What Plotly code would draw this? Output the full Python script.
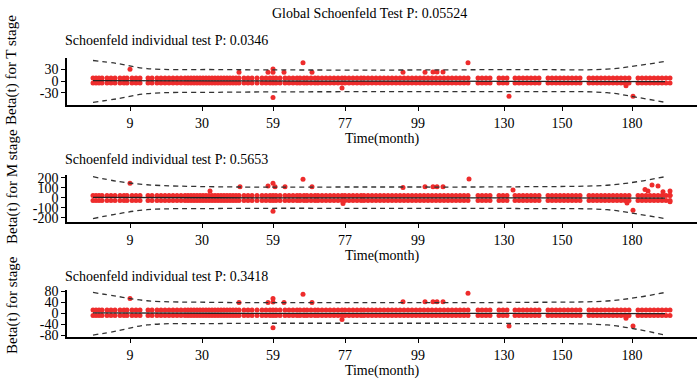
import plotly.graph_objects as go

# ---------------- data ----------------
# transformed (KM-scale) event times of the residual columns
event_t = [26, 29, 32, 35, 40, 44, 48, 53, 57, 60, 65, 69, 73,
           81, 85, 90, 94, 98, 102, 106, 110, 114, 118, 121, 124, 127, 130, 133, 136, 139, 142,
           145, 148, 151, 154, 157, 160, 163, 166, 169, 172,
           177, 181, 185, 190, 195, 199, 203, 206, 209, 213, 218, 222,
           226, 230, 233, 237, 240, 244, 248, 251, 255, 259, 263, 267, 271, 275, 278, 282, 286,
           290, 294, 297, 301, 305, 309, 313, 317, 321, 325, 329, 333,
           337, 341, 345, 349, 353, 357, 361, 365, 369, 373, 377, 381, 385, 389, 393, 397, 401,
           411, 415, 419, 423, 432, 436, 440, 448, 452, 456, 460, 464, 468, 472,
           481, 485, 489, 493, 497, 501, 505, 509, 513, 522, 526, 530, 534, 538, 542, 546, 550,
           554, 558, 562, 571, 575, 579, 583, 587, 591, 595, 599, 603]

tick_pos = [63, 135, 206, 278, 351, 437, 495, 565]
tick_text = ["9", "30", "59", "77", "99", "130", "150", "180"]

band_t = [26, 50, 80, 150, 300, 450, 540, 570, 598]
fit_t = [26, 150, 300, 450, 598]

# panel 1: T stage
t_rows = [8, -5]
t_out_x = [63, 172, 201, 206, 206, 217, 236, 245, 206, 275, 336, 358, 366, 370, 376, 401, 442, 559, 566]
t_out_y = [30.5, 22.7, 22.7, 31.5, 22.7, 22.7, 47.8, 22.7, -42.5, -18, 22.7, 22.7, 23.5, 23.5, 23.5, 47.8, -39, -12, -39]
t_upper = [53.5, 45.7, 32.6, 30, 28.7, 30, 31, 40, 51]
t_lower = [-55, -46, -32.6, -29, -27.4, -27.4, -30, -42, -55]
t_fit = [1.5, 0.5, 0, -0.5, -1.5]

# panel 2: M stage
m_rows = [23, -27]
m_out_x = [63, 143, 173, 201, 206, 208, 218, 236, 245, 206, 276, 336, 358, 366, 370, 376, 402, 446,
           585, 591, 578, 566, 560, 596, 603, 603, 603, 581]
m_out_y = [144, 67, 110, 117, 144, 110, 110, 184, 110, -133, -56, 104, 110, 110, 110, 110, 187, 77,
           127, 117, 84, -123, -50, 60, 67, 27, -40, 67]
m_upper = [210, 165, 130, 110, 108, 110, 125, 160, 210]
m_lower = [-206, -160, -118, -106, -104, -106, -118, -160, -206]
m_fit = [4, 1, 0, 0, -2]

# panel 3: stage
s_rows = [12, -8]
s_out_x = [63, 172, 201, 206, 206, 217, 236, 245, 206, 275, 336, 358, 366, 370, 376, 401, 442, 559, 566]
s_out_y = [54.5, 40, 40, 54.5, 41, 40, 70, 40, -52, -22, 42, 42, 42, 42, 42, 73, -46, -18, -46]
s_upper = [76, 62, 46, 40, 39, 40, 45, 58, 76]
s_lower = [-79, -64, -42, -37, -36, -37, -42, -58, -79]
s_fit = [2, 0.5, 0, 0, -1]

panels = [
    dict(rows=t_rows, ox=t_out_x, oy=t_out_y, up=t_upper, lo=t_lower, fit=t_fit,
         yr=[-62, 60], yt=[-30, 0, 30], sub="Schoenfeld individual test P: 0.0346",
         ylab="Beta(t) for T stage"),
    dict(rows=m_rows, ox=m_out_x, oy=m_out_y, up=m_upper, lo=m_lower, fit=m_fit,
         yr=[-240, 227], yt=[-200, -100, 0, 100, 200], sub="Schoenfeld individual test P: 0.5653",
         ylab="Beta(t) for M stage"),
    dict(rows=s_rows, ox=s_out_x, oy=s_out_y, up=s_upper, lo=s_lower, fit=s_fit,
         yr=[-87, 85], yt=[-80, -40, 0, 40, 80], sub="Schoenfeld individual test P: 0.3418",
         ylab="Beta(t) for stage"),
]

# ---------------- figure ----------------
W, H = 700, 387
FONT = "Liberation Serif, Times New Roman, serif"
x_dom = [67 / W, 697 / W]
y_px = [(58, 105), (175, 222), (290, 337.3)]
label_center = [70, 187, 305]
sub_y = [40, 159, 276]

fig = go.Figure()
annotations = []
for i, p in enumerate(panels):
    n = i + 1
    xa = "x" if n == 1 else f"x{n}"
    ya = "y" if n == 1 else f"y{n}"
    px_ = []
    py_ = []
    for r in p["rows"]:
        px_ += event_t
        py_ += [r] * len(event_t)
    px_ += p["ox"]
    py_ += p["oy"]
    fig.add_trace(go.Scatter(x=px_, y=py_, mode="markers", xaxis=xa, yaxis=ya,
                             marker=dict(color="#EE2C2C", size=5, line=dict(width=0)),
                             showlegend=False, hoverinfo="skip"))
    for band in (p["up"], p["lo"]):
        fig.add_trace(go.Scatter(x=band_t, y=band, mode="lines", xaxis=xa, yaxis=ya,
                                 line=dict(color="#333333", width=1.3, dash="5px,4px", shape="spline"),
                                 showlegend=False, hoverinfo="skip"))
    fig.add_trace(go.Scatter(x=fit_t, y=p["fit"], mode="lines", xaxis=xa, yaxis=ya,
                             line=dict(color="#222222", width=1.3, shape="spline"),
                             showlegend=False, hoverinfo="skip"))
    top, bot = y_px[i]
    common_x = dict(domain=x_dom, range=[0, 630], tickvals=tick_pos, ticktext=tick_text,
                    showline=True, linecolor="black", linewidth=1.5, ticks="outside",
                    ticklen=4, tickwidth=1, tickcolor="black", showgrid=False, zeroline=False,
                    automargin=False,
                    tickfont=dict(family=FONT, size=14, color="black"),
                    title=dict(text="Time(month)", font=dict(family=FONT, size=14, color="black"),
                               standoff=2),
                    anchor=ya)
    common_y = dict(domain=[1 - bot / H, 1 - top / H], range=p["yr"], tickvals=p["yt"],
                    ticktext=[str(v) for v in p["yt"]], automargin=False,
                    showline=True, linecolor="black", linewidth=1.5, ticks="outside",
                    ticklen=4, tickwidth=1, tickcolor="black", showgrid=False, zeroline=False,
                    tickfont=dict(family=FONT, size=14, color="black"), anchor=xa)
    fig.update_layout(**{("xaxis" if n == 1 else f"xaxis{n}"): common_x,
                         ("yaxis" if n == 1 else f"yaxis{n}"): common_y})
    annotations.append(dict(text=p["sub"], x=63 / W, y=1 - sub_y[i] / H, xref="paper", yref="paper",
                            xanchor="left", yanchor="middle", showarrow=False,
                            font=dict(family=FONT, size=14, color="black")))
    annotations.append(dict(text=p["ylab"], x=12 / W, y=1 - label_center[i] / H, xref="paper",
                            yref="paper", xanchor="center", yanchor="middle", textangle=-90,
                            showarrow=False, font=dict(family=FONT, size=15, color="black")))

annotations.append(dict(text="Global Schoenfeld Test P: 0.05524", x=369 / W, y=1 - 14 / H,
                        xref="paper", yref="paper", xanchor="center", yanchor="middle",
                        showarrow=False, font=dict(family=FONT, size=14, color="black")))

fig.update_layout(width=W, height=H, margin=dict(l=0, r=0, t=0, b=0, autoexpand=False),
                  paper_bgcolor="white", plot_bgcolor="white",
                  annotations=annotations, font=dict(family=FONT))

fig.write_html("out.html", config={"displayModeBar": False},
               post_script="document.body.style.margin='0';document.body.style.overflow='hidden';")
